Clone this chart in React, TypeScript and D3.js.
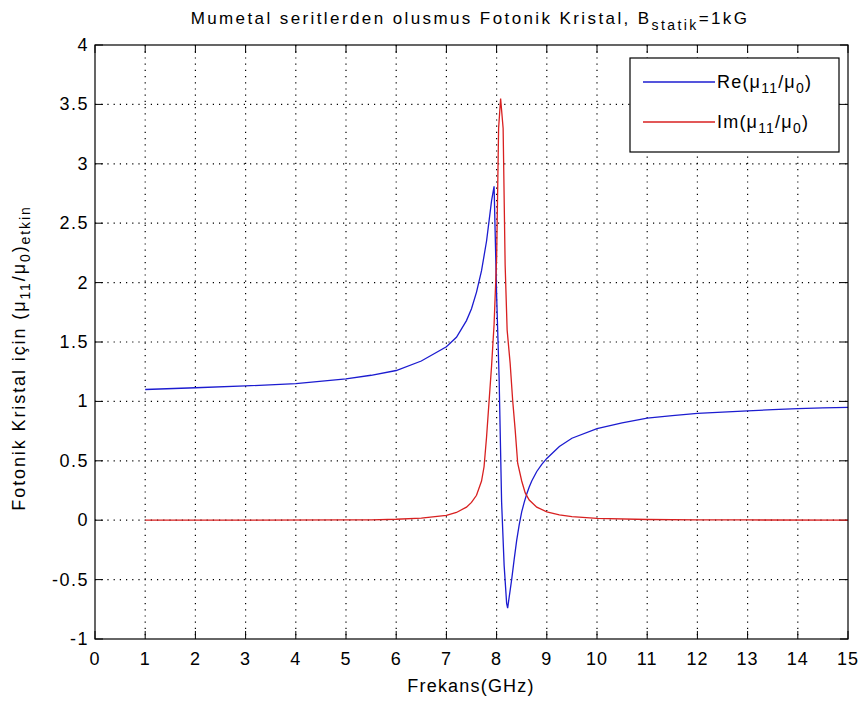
import React from "react";
import * as d3 from "d3";

const reFreq = [1.0, 2.0, 3.0, 4.0, 5.0, 5.5, 6.0, 6.5, 7.0, 7.2, 7.4, 7.5, 7.6, 7.7, 7.8, 7.85, 7.9, 7.95, 8.0, 8.05, 8.1, 8.15, 8.2, 8.22, 8.25, 8.3, 8.35, 8.4, 8.45, 8.5, 8.55, 8.6, 8.65, 8.7, 8.8, 8.9, 9.0, 9.25, 9.5, 10.0, 10.5, 11.0, 11.5, 12.0, 12.5, 13.0, 13.5, 14.0, 14.5, 15.0];
const reVals = [1.1, 1.115, 1.13, 1.15, 1.19, 1.22, 1.26, 1.34, 1.46, 1.54, 1.68, 1.78, 1.92, 2.1, 2.35, 2.52, 2.69, 2.81, 1.9, 1.2, 0.15, -0.38, -0.7, -0.74, -0.65, -0.5, -0.33, -0.17, -0.04, 0.07, 0.15, 0.22, 0.28, 0.33, 0.41, 0.47, 0.52, 0.62, 0.69, 0.77, 0.82, 0.86, 0.88, 0.9, 0.91, 0.92, 0.93, 0.94, 0.945, 0.95];

const imFreq = [1.0, 3.0, 5.0, 5.5, 6.0, 6.5, 7.0, 7.2, 7.4, 7.5, 7.6, 7.7, 7.75, 7.8, 7.85, 7.9, 7.95, 8.0, 8.04, 8.08, 8.13, 8.17, 8.21, 8.27, 8.32, 8.37, 8.42, 8.5, 8.57, 8.65, 8.8, 9.0, 9.25, 9.5, 10.0, 11.0, 12.0, 13.0, 15.0];
const imVals = [0.0, 0.0, 0.002, 0.003, 0.008, 0.018, 0.04, 0.065, 0.11, 0.15, 0.21, 0.33, 0.45, 0.7, 1.0, 1.3, 1.65, 2.2, 3.3, 3.55, 3.3, 2.15, 1.6, 1.32, 1.01, 0.76, 0.48, 0.33, 0.23, 0.17, 0.11, 0.07, 0.045, 0.03, 0.015, 0.006, 0.003, 0.002, 0.001];

const xTicks = d3.range(0, 16, 1);
const yTicks = [-1, -0.5, 0, 0.5, 1, 1.5, 2, 2.5, 3, 3.5, 4];

const FONT = "'Liberation Sans', Arial, Helvetica, sans-serif";

export default function App() {
  const W = 864, H = 706;
  const left = 95, right = 848, top = 45, bottom = 639;
  const x = d3.scaleLinear().domain([0, 15]).range([left, right]);
  const y = d3.scaleLinear().domain([-1, 4]).range([bottom, top]);
  const line = d3.line<[number, number]>().x(d => x(d[0])).y(d => y(d[1]));
  const reData = reFreq.map((f, i) => [f, reVals[i]] as [number, number]);
  const imData = imFreq.map((f, i) => [f, imVals[i]] as [number, number]);
  const tickLen = 8;
  const blue = "#1c1cd0";
  const red = "#d82020";

  return (
    <div style={{ position: "absolute", left: 0, top: 0 }}>
      <svg width={W} height={H} style={{ display: "block", background: "#fff", fontFamily: FONT }}>
        <rect x={0} y={0} width={W} height={H} fill="#fff" />
        {/* grid */}
        {xTicks.slice(1, -1).map(t => (
          <line key={"gx" + t} x1={x(t)} x2={x(t)} y1={top} y2={bottom} stroke="#000" strokeWidth={1.2} strokeDasharray="1.2,5" />
        ))}
        {yTicks.slice(1, -1).map(t => (
          <line key={"gy" + t} x1={left} x2={right} y1={y(t)} y2={y(t)} stroke="#000" strokeWidth={1.2} strokeDasharray="1.2,5" />
        ))}
        {/* ticks */}
        {xTicks.map(t => (
          <g key={"tx" + t}>
            <line x1={x(t)} x2={x(t)} y1={bottom} y2={bottom - tickLen} stroke="#000" />
            <line x1={x(t)} x2={x(t)} y1={top} y2={top + tickLen} stroke="#000" />
            <text x={x(t)} y={665} textAnchor="middle" fontSize={18} letterSpacing={1}>{t}</text>
          </g>
        ))}
        {yTicks.map(t => (
          <g key={"ty" + t}>
            <line x1={left} x2={left + tickLen} y1={y(t)} y2={y(t)} stroke="#000" />
            <line x1={right} x2={right - tickLen} y1={y(t)} y2={y(t)} stroke="#000" />
            <text x={89} y={y(t) + 6} textAnchor="end" fontSize={18} letterSpacing={1.5}>{t}</text>
          </g>
        ))}
        {/* data */}
        <path d={line(reData) || ""} fill="none" stroke={blue} strokeWidth={1.3} />
        <path d={line(imData) || ""} fill="none" stroke={red} strokeWidth={1.3} />
        {/* axes box */}
        <rect x={left} y={top} width={right - left} height={bottom - top} fill="none" stroke="#000" strokeWidth={1.2} />
        {/* legend */}
        <rect x={630} y={58} width={209} height={94} fill="#fff" stroke="#000" strokeWidth={1.2} />
        <line x1={643} x2={715} y1={82} y2={82} stroke={blue} strokeWidth={1.3} />
        <line x1={643} x2={715} y1={122} y2={122} stroke={red} strokeWidth={1.3} />
        <text x={717} y={88} fontSize={18} letterSpacing={1.2}>
          Re(μ<tspan dy={5} fontSize={14}>11</tspan><tspan dy={-5}>/μ</tspan><tspan dy={5} fontSize={14}>0</tspan><tspan dy={-5}>)</tspan>
        </text>
        <text x={717} y={128} fontSize={18} letterSpacing={1.2}>
          Im(μ<tspan dy={5} fontSize={14}>11</tspan><tspan dy={-5}>/μ</tspan><tspan dy={5} fontSize={14}>0</tspan><tspan dy={-5}>)</tspan>
        </text>
        {/* title */}
        <text x={470} y={24} textAnchor="middle" fontSize={17} letterSpacing={2.4}>
          Mumetal seritlerden olusmus Fotonik Kristal, B<tspan dy={6} fontSize={14}>statik</tspan><tspan dy={-6}>=1kG</tspan>
        </text>
        {/* x label */}
        <text x={471} y={692} textAnchor="middle" fontSize={18} letterSpacing={1.2}>Frekans(GHz)</text>
        {/* y label */}
        <text transform={`translate(25,358) rotate(-90)`} textAnchor="middle" fontSize={18} letterSpacing={1.9}>
          Fotonik Kristal için (μ<tspan dy={5} fontSize={14}>11</tspan><tspan dy={-5}>/μ</tspan><tspan dy={5} fontSize={14}>0</tspan><tspan dy={-5}>)</tspan><tspan dy={5} fontSize={14}>etkin</tspan>
        </text>
      </svg>
    </div>
  );
}
